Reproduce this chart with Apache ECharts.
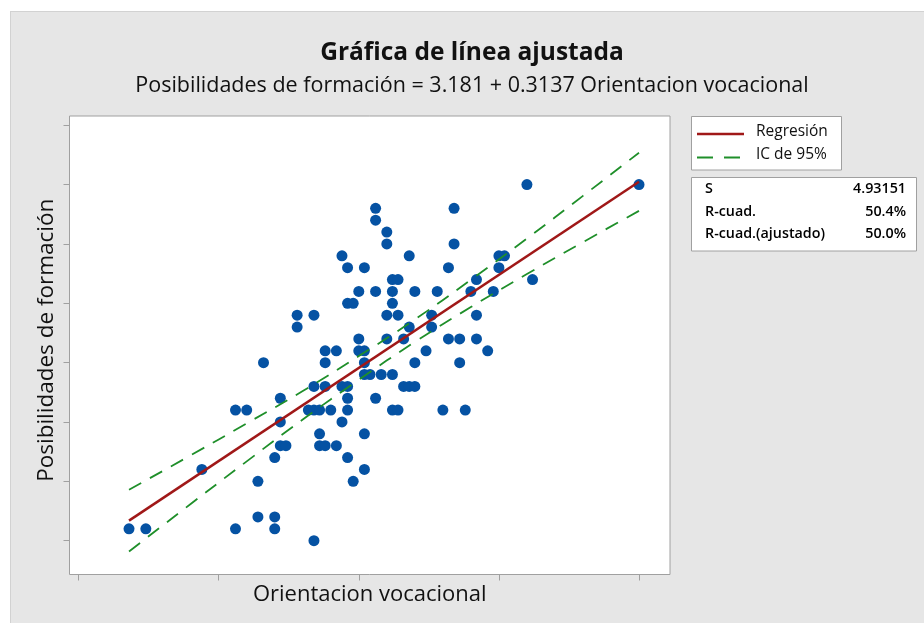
<!DOCTYPE html>
<html><head><meta charset="utf-8">
<script src="https://cdn.jsdelivr.net/npm/echarts@6/dist/echarts.min.js"></script>
<style>html,body{margin:0;padding:0;background:#fff}#c{width:924px;height:623px}</style>
</head><body><div id="c"></div>
<script>
// Scatter data: Orientacion vocacional (x), Posibilidades de formación (y)
const orientacion = [
  130,150,
  103,117,
  103,
  105,
  105,117,
  97,109,125,126,
  98,101,116,125,
  106,107,121,131,
  100,103,106,110,114,120,124,
  98,99,106,
  89,92,105,107,113,121,
  89,109,113,
  100,105,108,116,118,121,
  94,96,100,101,112,123,
  83,94,101,110,118,
  101,102,104,106,
  92,94,97,98,108,109,110,
  86,98,103,
  78,80,91,92,93,95,98,106,107,115,119,
  86,97,
  93,101,
  86,87,93,94,96,
  85,98,
  72,101,
  82,99,
  82,85,
  59,62,78,85,
  92
];
const posibilidades = [
  50,50,
  48,48,
  47,
  46,
  45,45,
  44,44,44,44,
  43,43,43,43,
  42,42,42,42,
  41,41,41,41,41,41,41,
  40,40,40,
  39,39,39,39,39,39,
  38,38,38,
  37,37,37,37,37,37,
  36,36,36,36,36,36,
  35,35,35,35,35,
  34,34,34,34,
  33,33,33,33,33,33,33,
  32,32,32,
  31,31,31,31,31,31,31,31,31,31,31,
  30,30,
  29,29,
  28,28,28,28,28,
  27,27,
  26,26,
  25,25,
  22,22,
  21,21,21,21,
  20
];
// Fitted line
const fitX = [59, 150];
const fitY = [21.69, 50.24];
// 95% confidence band
const ciX     = [59,    70,    80,    90,    100,   110,   120,   130,   140,   150];
const ciUpper = [24.29, 27.19, 29.88, 32.61, 35.55, 38.64, 41.98, 45.46, 49.05, 52.69];
const ciLower = [19.09, 23.09, 26.68, 30.21, 33.55, 36.74, 39.68, 42.46, 45.15, 47.79];
// Axis ticks (unlabelled in the reference)
const xTicks = [50, 75, 100, 125, 150];
const yTicks = [20, 25, 30, 35, 40, 45, 50, 55];
// Texts
const titleText = 'Gráfica de línea ajustada';
const subtitleText = 'Posibilidades de formación = 3.181 + 0.3137 Orientacion vocacional';
const xName = 'Orientacion vocacional';
const yName = 'Posibilidades de formación';
const legendNames = ['Regresión', 'IC de 95%'];
const statLabels = ['S', 'R-cuad.', 'R-cuad.(ajustado)'];
const statValues = ['4.93151', '50.4%', '50.0%'];

const FONT = '"Open Sans", "Noto Sans", sans-serif';
const RED = '#a01818';
const GREEN = '#1f8f2a';
const BLUE = '#0552a3';

const pts = orientacion.map((x, i) => [x, posibilidades[i]]);
const fitData = fitX.map((x, i) => [x, fitY[i]]);
const upData = ciX.map((x, i) => [x, ciUpper[i]]);
const loData = ciX.map((x, i) => [x, ciLower[i]]);

const graphics = [
  {type:'rect', shape:{x:0,y:0,width:924,height:11}, style:{fill:'#fff'}, silent:true},
  {type:'rect', shape:{x:0,y:0,width:10,height:623}, style:{fill:'#fff'}, silent:true},
  {type:'line', shape:{x1:10,y1:11.5,x2:924,y2:11.5}, style:{stroke:'#d2d2d2',lineWidth:1}},
  {type:'line', shape:{x1:10.5,y1:11,x2:10.5,y2:623}, style:{stroke:'#d2d2d2',lineWidth:1}},
  {type:'text', x:472, y:53, style:{text:titleText, font:'bold 24.5px ' + FONT, fill:'#111', textAlign:'center', textVerticalAlign:'middle'}},
  {type:'text', x:472, y:86, style:{text:subtitleText, font:'21.5px ' + FONT, fill:'#111', textAlign:'center', textVerticalAlign:'middle'}},
  // legend box
  {type:'rect', shape:{x:691.5,y:116.5,width:150,height:53.5}, style:{fill:'#fff', stroke:'#a0a0a0', lineWidth:1}},
  {type:'line', shape:{x1:697,y1:134,x2:744,y2:134}, style:{stroke:RED, lineWidth:2.5}},
  {type:'text', x:756, y:132, style:{text:legendNames[0], font:'15.5px ' + FONT, fill:'#111', textVerticalAlign:'middle'}},
  {type:'line', shape:{x1:697,y1:157.5,x2:744,y2:157.5}, style:{stroke:GREEN, lineWidth:2, lineDash:[16,11]}},
  {type:'text', x:756, y:155, style:{text:legendNames[1], font:'15.5px ' + FONT, fill:'#111', textVerticalAlign:'middle'}},
  // stats box
  {type:'rect', shape:{x:691.5,y:177.5,width:225,height:73.5}, style:{fill:'#fff', stroke:'#a0a0a0', lineWidth:1}}
];
const statY = [189, 212, 234];
statLabels.forEach((s, i) => {
  graphics.push({type:'text', x:705, y:statY[i], style:{text:s, font:'600 14.3px ' + FONT, fill:'#000', textVerticalAlign:'middle'}});
  graphics.push({type:'text', x:906, y:statY[i], style:{text:statValues[i], font:'600 14.3px ' + FONT, fill:'#000', textAlign:'right', textVerticalAlign:'middle'}});
});

const chart = echarts.init(document.getElementById('c'), null, {renderer:'canvas'});
chart.setOption({
  backgroundColor:'#e6e6e6',
  animation:false,
  grid:{left:69.5, top:116, width:600.5, height:458.5, show:true, backgroundColor:'#fff', borderColor:'#a0a0a0', borderWidth:1},
  xAxis:{
    type:'value', min:48.38, max:155.53,
    name:xName, nameLocation:'middle', nameGap:9,
    nameTextStyle:{fontFamily:FONT, fontSize:22, color:'#111', verticalAlign:'top'},
    axisLine:{show:false},
    axisTick:{show:true, customValues:xTicks, length:6, lineStyle:{color:'#a0a0a0', width:1}},
    axisLabel:{show:false}, splitLine:{show:false}
  },
  yAxis:{
    type:'value', min:17.15, max:55.78,
    name:yName, nameLocation:'middle', nameGap:11,
    nameTextStyle:{fontFamily:FONT, fontSize:22.5, color:'#111', padding:[0,0,0,10]},
    axisLine:{show:false},
    axisTick:{show:true, customValues:yTicks, length:6, lineStyle:{color:'#a0a0a0', width:1}},
    axisLabel:{show:false}, splitLine:{show:false}
  },
  series:[
    {type:'scatter', data:pts, symbol:'circle', symbolSize:11, itemStyle:{color:BLUE, opacity:1}, z:2},
    {type:'line', name:legendNames[1], data:upData, smooth:true, symbol:'none', lineStyle:{color:GREEN, width:1.8, type:[14,10]}, z:3},
    {type:'line', name:legendNames[1], data:loData, smooth:true, symbol:'none', lineStyle:{color:GREEN, width:1.8, type:[14,10]}, z:3},
    {type:'line', name:legendNames[0], data:fitData, symbol:'none', lineStyle:{color:RED, width:2.5}, z:4}
  ],
  graphic:graphics
});
</script></body></html>
